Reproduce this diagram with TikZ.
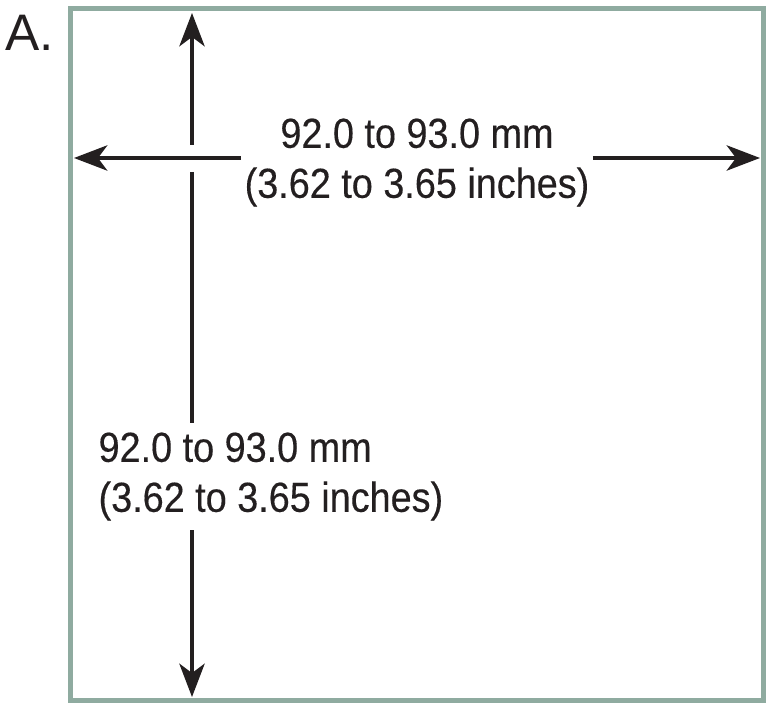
\documentclass[tikz,border=0pt]{standalone}
\usepackage{fontspec}
\setmainfont{Liberation Sans}[FakeStretch=0.9, FakeBold=0.3]
\newfontfamily\panelfont{Liberation Sans}
\usetikzlibrary{arrows.meta}
\definecolor{frameGreen}{RGB}{143,171,160}
\definecolor{inkBlack}{RGB}{35,31,32}

\begin{document}
\begin{tikzpicture}
[x=0.75pt, y=0.75pt,
  frameLine/.style={draw=frameGreen, line width=3.75pt, line join=miter},
  dimLine/.style={-, draw=inkBlack, line width=2.4pt},
  dimArrow/.style={dimLine, -{Stealth[length=25pt, width=19pt, inset=7pt]}},
  dimLabel/.style={text=inkBlack, font=\fontsize{31.5}{37.5}\selectfont,
    inner xsep=2.5pt, inner ysep=7pt}]
\useasboundingbox (0,0) rectangle (783,711);
%% frame and panel letter
\draw[frameLine] (70.5,10) rectangle (763.5,702);
\node (panel) at (29.5,678) [font=\panelfont\fontsize{38.5}{40}\selectfont, text=inkBlack] {A.};
%% end points of the dimension lines
\foreach \pname/\x/\y in {
  top/192/698, bot/192/14, lft/74/553, rgt/760/553,
  vupper/192/566, vlower/192/539}
{
  \coordinate (\pname) at (\x,\y);
}
%% labels
\node (hlabel) at (417,548.5) [dimLabel, align=center] {92.0 to 93.0 mm\\(3.62 to 3.65 inches)};
\node (vlabel) at (95,234.5) [dimLabel, anchor=west, align=left] {92.0 to 93.0 mm\\(3.62 to 3.65 inches)};
%% dimension lines
\path
\foreach \startnode/\endnode in {
  hlabel.west |- lft/lft, hlabel.east |- rgt/rgt, vupper/top, vlabel.south -| bot/bot}
{
  (\startnode) edge[dimArrow] (\endnode)
};
\path (vlower) edge[dimLine] (vlabel.north -| vlower);
\end{tikzpicture}
\end{document}
